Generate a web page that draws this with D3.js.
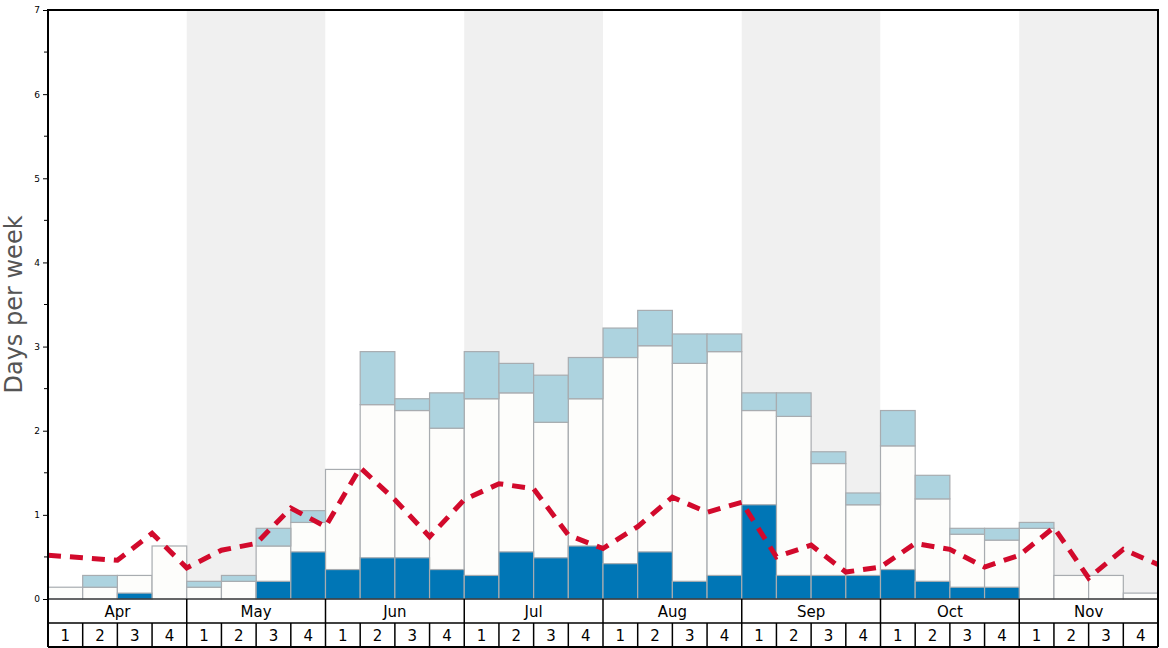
<!DOCTYPE html>
<html>
<head>
<meta charset="utf-8">
<script src="https://cdn.jsdelivr.net/npm/d3@7"></script>
<style>
  html, body { margin: 0; padding: 0; background: #fff; }
  svg { display: block; font-family: "DejaVu Sans", sans-serif; }
</style>
</head>
<body>
<svg id="chart" width="1168" height="648"></svg>
<script>
const months = ["Apr", "May", "Jun", "Jul", "Aug", "Sep", "Oct", "Nov"];
const weekLabels = ["1", "2", "3", "4"];
const yTicks = [0, 1, 2, 3, 4, 5, 6, 7];

// dark blue portion (bottom)
const darkValues = [
  0, 0, 0.07, 0,
  0, 0, 0.21, 0.56,
  0.35, 0.49, 0.49, 0.35,
  0.28, 0.56, 0.49, 0.63,
  0.42, 0.56, 0.21, 0.28,
  1.12, 0.28, 0.28, 0.28,
  0.35, 0.21, 0.14, 0.14,
  0, 0, 0, 0
];
// white bar top
const whiteValues = [
  0.14, 0.14, 0.28, 0.63,
  0.14, 0.21, 0.63, 0.91,
  1.54, 2.31, 2.24, 2.03,
  2.38, 2.45, 2.10, 2.38,
  2.87, 3.01, 2.80, 2.94,
  2.24, 2.17, 1.61, 1.12,
  1.82, 1.19, 0.77, 0.70,
  0.84, 0.28, 0.28, 0.07
];
// light blue top (total)
const lightValues = [
  0.14, 0.28, 0.28, 0.63,
  0.21, 0.28, 0.84, 1.05,
  1.54, 2.94, 2.38, 2.45,
  2.94, 2.80, 2.66, 2.87,
  3.22, 3.43, 3.15, 3.15,
  2.45, 2.45, 1.75, 1.26,
  2.24, 1.47, 0.84, 0.84,
  0.91, 0.28, 0.28, 0.07
];
// dashed line values at week boundaries (33 points)
const lineValues = [
  0.52, 0.49, 0.46, 0.78, 0.37, 0.58, 0.66, 1.08, 0.86,
  1.56, 1.18, 0.74, 1.18, 1.37, 1.31, 0.76, 0.60,
  0.86, 1.21, 1.03, 1.15, 0.50, 0.64, 0.32, 0.38,
  0.66, 0.59, 0.38, 0.52, 0.85, 0.25, 0.59, 0.41
];

(function () {
const mLeft = 48, mRight = 1158, mTop = 10, mBottom = 599;
const monthRowH = 24, weekRowH = 24;

const weeks = [];
months.forEach((m, mi) => weekLabels.forEach((w, wi) => weeks.push({ month: m, mi, week: w, idx: mi * 4 + wi })));

const x = d3.scaleBand().domain(weeks.map(d => d.idx)).range([mLeft, mRight]).padding(0);
const xm = d3.scaleBand().domain(months).range([mLeft, mRight]).padding(0);
const xb = d3.scaleLinear().domain([0, weeks.length]).range([mLeft, mRight]);
const y = d3.scaleLinear().domain([0, 7]).range([mBottom, mTop]);

const svg = d3.select("#chart");

// month bands
svg.append("g").selectAll("rect").data(months).join("rect")
  .attr("x", d => xm(d)).attr("y", mTop)
  .attr("width", xm.bandwidth()).attr("height", mBottom - mTop)
  .attr("fill", (d, i) => i % 2 === 1 ? "#f0f0f0" : "#ffffff");

const barStroke = "#a8acb0";
const bars = svg.append("g");
bars.selectAll("rect.w").data(weeks).join("rect").attr("class", "w")
  .attr("x", d => x(d.idx)).attr("width", x.bandwidth())
  .attr("y", d => y(whiteValues[d.idx]))
  .attr("height", d => y(0) - y(whiteValues[d.idx]))
  .attr("fill", "#fdfdfb").attr("stroke", barStroke).attr("stroke-width", 1.2);
bars.selectAll("rect.l").data(weeks.filter(d => lightValues[d.idx] > whiteValues[d.idx])).join("rect").attr("class", "l")
  .attr("x", d => x(d.idx)).attr("width", x.bandwidth())
  .attr("y", d => y(lightValues[d.idx]))
  .attr("height", d => y(whiteValues[d.idx]) - y(lightValues[d.idx]))
  .attr("fill", "#add3df").attr("stroke", barStroke).attr("stroke-width", 1.2);
bars.selectAll("rect.d").data(weeks.filter(d => darkValues[d.idx] > 0)).join("rect").attr("class", "d")
  .attr("x", d => x(d.idx)).attr("width", x.bandwidth())
  .attr("y", d => y(darkValues[d.idx]))
  .attr("height", d => y(0) - y(darkValues[d.idx]))
  .attr("fill", "#0076b6").attr("stroke", barStroke).attr("stroke-width", 1.2);

// dashed line
const line = d3.line().x((d, i) => xb(i)).y(d => y(d));
svg.append("path").datum(lineValues)
  .attr("d", line)
  .attr("fill", "none").attr("stroke", "#d20a2c")
  .attr("stroke-width", 5).attr("stroke-dasharray", "13,9");

// y axis
const yAxis = d3.axisLeft(y).tickValues(yTicks).tickSize(5).tickPadding(3).tickFormat(d3.format("d"));
const ya = svg.append("g").attr("transform", `translate(${mLeft},0)`).call(yAxis);
ya.select(".domain").remove();
ya.selectAll("text").attr("font-size", 9).attr("fill", "#000").attr("font-family", "DejaVu Sans, sans-serif");
ya.selectAll("line").attr("stroke", "#000");
svg.append("g").selectAll("line").data(d3.range(0.5, 7, 1)).join("line")
  .attr("x1", mLeft - 4).attr("x2", mLeft).attr("y1", d => y(d)).attr("y2", d => y(d))
  .attr("stroke", "#000").attr("stroke-width", 1);

// frame
svg.append("line").attr("x1", mLeft).attr("x2", mRight + 1).attr("y1", mTop).attr("y2", mTop).attr("stroke", "#000").attr("stroke-width", 2);
svg.append("line").attr("x1", mRight).attr("x2", mRight).attr("y1", mTop).attr("y2", mBottom + monthRowH + weekRowH).attr("stroke", "#000").attr("stroke-width", 2);
svg.append("line").attr("x1", mLeft).attr("x2", mLeft).attr("y1", mTop - 1).attr("y2", mBottom + monthRowH + weekRowH).attr("stroke", "#000").attr("stroke-width", 2);

// bottom axis rows
const axisG = svg.append("g");
axisG.append("line").attr("x1", mLeft).attr("x2", mRight).attr("y1", mBottom).attr("y2", mBottom).attr("stroke", "#000").attr("stroke-width", 1);
axisG.append("line").attr("x1", mLeft).attr("x2", mRight).attr("y1", mBottom + monthRowH).attr("y2", mBottom + monthRowH).attr("stroke", "#000").attr("stroke-width", 1.5);
axisG.append("line").attr("x1", mLeft).attr("x2", mRight).attr("y1", mBottom + monthRowH + weekRowH).attr("y2", mBottom + monthRowH + weekRowH).attr("stroke", "#000").attr("stroke-width", 2);
axisG.selectAll("line.mb").data(months.slice(1)).join("line").attr("class", "mb")
  .attr("x1", d => xm(d)).attr("x2", d => xm(d))
  .attr("y1", mBottom).attr("y2", mBottom + monthRowH + weekRowH)
  .attr("stroke", "#000").attr("stroke-width", 1.5);
axisG.selectAll("line.wb").data(weeks.filter(d => d.idx % 4 !== 0)).join("line").attr("class", "wb")
  .attr("x1", d => x(d.idx)).attr("x2", d => x(d.idx))
  .attr("y1", mBottom + monthRowH).attr("y2", mBottom + monthRowH + weekRowH)
  .attr("stroke", "#000").attr("stroke-width", 1.5);
axisG.selectAll("text.m").data(months).join("text").attr("class", "m")
  .attr("x", d => xm(d) + xm.bandwidth() / 2).attr("y", mBottom + monthRowH / 2 + 5.5)
  .attr("text-anchor", "middle").attr("font-size", 15).attr("fill", "#000").text(d => d);
axisG.selectAll("text.w").data(weeks).join("text").attr("class", "w")
  .attr("x", d => x(d.idx) + x.bandwidth() / 2).attr("y", mBottom + monthRowH + weekRowH / 2 + 6)
  .attr("text-anchor", "middle").attr("font-size", 15).attr("fill", "#000").text(d => d.week);

// y label
svg.append("text")
  .attr("transform", `translate(21.5,${(mTop + mBottom) / 2}) rotate(-90)`)
  .attr("text-anchor", "middle").attr("font-size", 24).attr("fill", "#555")
  .text("Days per week");
})();
</script>
</body>
</html>
